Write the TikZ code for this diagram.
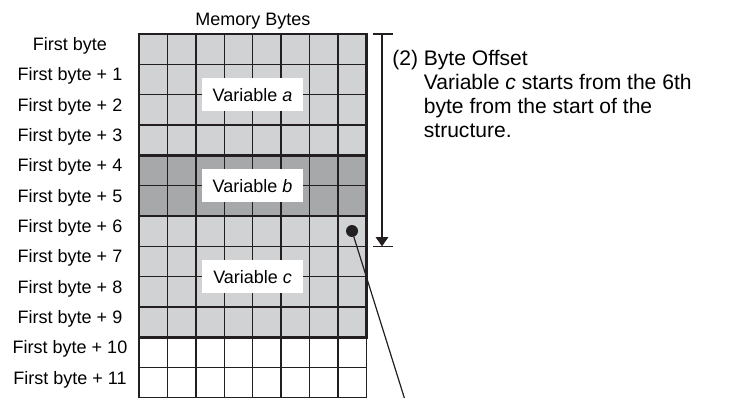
\documentclass[tikz,border=0pt]{standalone}
\usepackage{fontspec}
\setmainfont{Liberation Sans}
\usetikzlibrary{arrows.meta}
\definecolor{lightcell}{HTML}{D1D2D4}
\definecolor{darkcell}{HTML}{A7A8AA}
\definecolor{ink}{HTML}{231F20}

\begin{document}
\begin{tikzpicture}[x=0.75pt,y=-0.75pt,
  rowlabel/.style={anchor=base,inner sep=0pt,font=\fontsize{13.5}{16}\selectfont},
  varbox/.style={fill=white,inner sep=0pt,minimum width=75.75pt,minimum height=24.75pt,font=\fontsize{13.5}{16}\selectfont},
  cellline/.style={ink,line width=1.05pt},
  blockline/.style={ink,line width=2.1pt}]
\useasboundingbox (0,0) rectangle (741,397);
% memory cells
\fill[lightcell] (139,34) rectangle (366.2,155.33);
\fill[darkcell] (139,155.33) rectangle (366.2,216);
\fill[lightcell] (139,216) rectangle (366.2,337.33);
\foreach \i in {1,...,7}
  \draw[cellline] (139+28.4*\i,34) -- (139+28.4*\i,398);
\foreach \j in {1,...,12}
  \draw[cellline] (139,34+30.33*\j) -- (366.2,34+30.33*\j);
\draw[cellline] (139,337.33) -- (139,398) (366.2,337.33) -- (366.2,398);
\draw[blockline] (139,34) rectangle (366.2,155.33);
\draw[blockline] (139,155.33) rectangle (366.2,216);
\draw[blockline] (139,216) rectangle (366.2,337.33);
\node[anchor=base,inner sep=0pt,font=\fontsize{13.5}{16}\selectfont] (title) at (253,25) {Memory Bytes};
% byte labels
\foreach \i in {0,...,11}
  \node[rowlabel] (r\i) at (70,34+30.33*\i+16.5) {\ifnum\i=0 First byte\else First byte + \i\fi};
% variables
\node[varbox] (vara) at (252.6,94.67) {Variable \textit{a}};
\node[varbox] (varb) at (252.6,185.67) {Variable \textit{b}};
\node[varbox] (varc) at (252.6,276.67) {Variable \textit{c}};
% byte offset
\coordinate (offtop) at (382,34);
\coordinate (offbot) at (382,246.33);
\draw[ink,line width=1pt] (373,34) -- (393,34) (373,246.33) -- (393,246.33);
\draw[ink,line width=1pt,-{Triangle[width=9.5pt,length=7pt]}] (offtop) -- (offbot);
\node[anchor=north west,inner sep=0pt,align=left,font=\fontsize{15.8}{18.2}\selectfont] (note) at (392,49.5)
  {(2) Byte Offset\\\hphantom{(2) }Variable \textit{c} starts from the 6th\\\hphantom{(2) }byte from the start of the\\\hphantom{(2) }structure.};
\node[circle,fill=ink,inner sep=0pt,minimum size=9pt] (cstart) at (352,231) {};
\coordinate (leader) at (405,400);
\draw[ink,line width=0.9pt] (cstart) -- (leader);
\end{tikzpicture}
\end{document}
